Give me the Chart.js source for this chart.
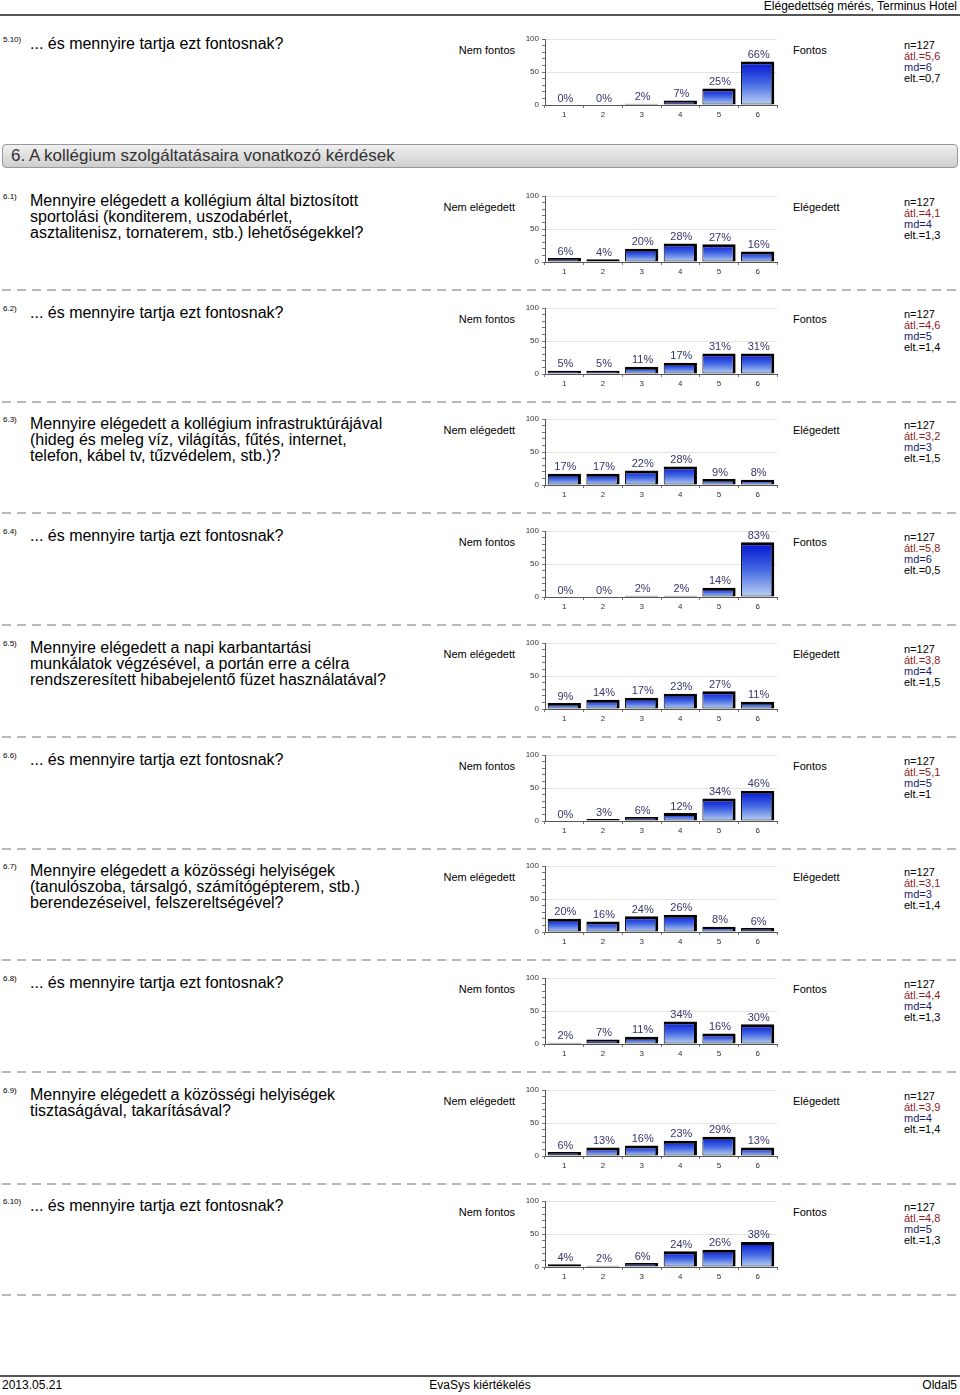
<!DOCTYPE html>
<html lang="hu">
<head>
<meta charset="utf-8">
<title>Elégedettség mérés, Terminus Hotel</title>
<script src="https://cdn.jsdelivr.net/npm/chart.js@4.4.1/dist/chart.umd.min.js"></script>
<style>
  html, body { margin: 0; padding: 0; background: #fff; }
  body { width: 960px; height: 1395px; position: relative; overflow: hidden;
         font-family: "Liberation Sans", Arial, sans-serif; color: #000; }
  .abs { position: absolute; white-space: nowrap; }
  .hline { position: absolute; left: 0; width: 960px; height: 2px; background: #555; }
  .qid { font-size: 8px; line-height: 10px; }
  .qtext { font-size: 16px; line-height: 16px; }
  .side { font-size: 11px; line-height: 12px; }
  .stats { font-size: 11px; line-height: 11px; }
  .dash { position: absolute; left: 2px; width: 956px; height: 2px;
          background: repeating-linear-gradient(90deg, #b8b8b8 0 9px, transparent 9px 15px); }
  .section { position: absolute; left: 2px; top: 144px; width: 956px; height: 24px;
             box-sizing: border-box; border: 1px solid #999; border-radius: 4px;
             background: linear-gradient(#f0f0f0, #cecece);
             font-size: 17px; line-height: 22px; color: #333; padding-left: 8px; }
  canvas { position: absolute; }
</style>
</head>
<body>

<div class="abs" style="right:3px; top:0px; font-size:12px; line-height:12px;">Elégedettség mérés, Terminus Hotel</div>
<div class="hline" style="top:14px;"></div>

<div class="section">6. A kollégium szolgáltatásaira vonatkozó kérdések</div>

<div class="hline" style="top:1375px;"></div>
<div class="abs" style="left:2px; top:1379px; font-size:12px; line-height:12px;">2013.05.21</div>
<div class="abs" style="left:0; width:960px; text-align:center; top:1379px; font-size:12px; line-height:12px;">EvaSys kiértékelés</div>
<div class="abs" style="right:3px; top:1379px; font-size:12px; line-height:12px;">Oldal5</div>

<script>
const categories = ['1', '2', '3', '4', '5', '6'];

const questionIds = ['5.10)', '6.1)', '6.2)', '6.3)', '6.4)', '6.5)', '6.6)', '6.7)', '6.8)', '6.9)', '6.10)'];

const importanceText = '... és mennyire tartja ezt fontosnak?';
const questionTexts = [
    importanceText,
    'Mennyire elégedett a kollégium által biztosított<br>sportolási (konditerem, uszodabérlet,<br>asztalitenisz, tornaterem, stb.) lehetőségekkel?',
    importanceText,
    'Mennyire elégedett a kollégium infrastruktúrájával<br>(hideg és meleg víz, világítás, fűtés, internet,<br>telefon, kábel tv, tűzvédelem, stb.)?',
    importanceText,
    'Mennyire elégedett a napi karbantartási<br>munkálatok végzésével, a portán erre a célra<br>rendszeresített hibabejelentő füzet használatával?',
    importanceText,
    'Mennyire elégedett a közösségi helyiségek<br>(tanulószoba, társalgó, számítógépterem, stb.)<br>berendezéseivel, felszereltségével?',
    importanceText,
    'Mennyire elégedett a közösségi helyiségek<br>tisztaságával, takarításával?',
    importanceText
];

const leftLabels = ['Nem fontos', 'Nem elégedett', 'Nem fontos', 'Nem elégedett', 'Nem fontos',
    'Nem elégedett', 'Nem fontos', 'Nem elégedett', 'Nem fontos', 'Nem elégedett', 'Nem fontos'];
const rightLabels = ['Fontos', 'Elégedett', 'Fontos', 'Elégedett', 'Fontos',
    'Elégedett', 'Fontos', 'Elégedett', 'Fontos', 'Elégedett', 'Fontos'];

// percentages per answer 1..6
const pct_5_10 = [0, 0, 2, 7, 25, 66];
const pct_6_1 = [6, 4, 20, 28, 27, 16];
const pct_6_2 = [5, 5, 11, 17, 31, 31];
const pct_6_3 = [17, 17, 22, 28, 9, 8];
const pct_6_4 = [0, 0, 2, 2, 14, 83];
const pct_6_5 = [9, 14, 17, 23, 27, 11];
const pct_6_6 = [0, 3, 6, 12, 34, 46];
const pct_6_7 = [20, 16, 24, 26, 8, 6];
const pct_6_8 = [2, 7, 11, 34, 16, 30];
const pct_6_9 = [6, 13, 16, 23, 29, 13];
const pct_6_10 = [4, 2, 6, 24, 26, 38];
const percentages = [pct_5_10, pct_6_1, pct_6_2, pct_6_3, pct_6_4, pct_6_5,
    pct_6_6, pct_6_7, pct_6_8, pct_6_9, pct_6_10];

const nValues = [127, 127, 127, 127, 127, 127, 127, 127, 127, 127, 127];
const means = ['5,6', '4,1', '4,6', '3,2', '5,8', '3,8', '5,1', '3,1', '4,4', '3,9', '4,8'];
const medians = ['6', '4', '5', '3', '6', '4', '5', '3', '4', '4', '5'];
const stdDevs = ['0,7', '1,3', '1,4', '1,5', '0,5', '1,5', '1', '1,4', '1,3', '1,4', '1,3'];

// ---- layout ----
const FONT = '"Liberation Sans", Arial, sans-serif';

function blockTop(i) {
    // y of the "100" gridline of each block
    if (i === 0) return 39;
    return Math.round(196 + (i - 1) * 111.7);
}

function addDiv(cls, style, html) {
    const d = document.createElement('div');
    d.className = cls;
    d.setAttribute('style', style);
    d.innerHTML = html;
    document.body.appendChild(d);
    return d;
}

// "NN%" above every bar
const pctLabels = {
    id: 'pctLabels',
    afterDraw(chart) {
        const ctx = chart.ctx;
        const meta = chart.getDatasetMeta(0);
        const values = chart.data.datasets[0].data;
        ctx.save();
        ctx.font = '11px ' + FONT;
        ctx.fillStyle = '#36366c';
        ctx.textAlign = 'center';
        ctx.textBaseline = 'bottom';
        meta.data.forEach((bar, i) => {
            ctx.fillText(values[i] + '%', bar.x + 1, bar.y - 1);
        });
        ctx.restore();
    }
};

function barFill(c) {
    if (c.type !== 'data') return '#2040e0';
    const chart = c.chart;
    const area = chart.chartArea;
    const y = chart.scales.y;
    if (!area || !y) return '#2040e0';
    const top = y.getPixelForValue(c.parsed.y);
    const base = y.getPixelForValue(0);
    if (base - top < 5) return '#18228a';
    const g = chart.ctx.createLinearGradient(0, top, 0, base);
    g.addColorStop(0, '#0012d0');
    g.addColorStop(0.5, '#4468e4');
    g.addColorStop(1, '#bad2f2');
    return g;
}

function createBlock(i) {
    const T = blockTop(i);

    addDiv('abs qid', `left:3px; top:${T - 4}px;`, questionIds[i]);
    addDiv('abs qtext', `left:30px; top:${T - 3}px;`, questionTexts[i]);
    addDiv('abs side', `left:380px; width:135px; text-align:right; top:${T + 5}px;`, leftLabels[i]);
    addDiv('abs side', `left:793px; top:${T + 5}px;`, rightLabels[i]);
    addDiv('abs stats', `left:904px; top:${T + 1}px;`,
        `n=${nValues[i]}<br><span style="color:#8a1c1c">átl.=${means[i]}</span><br>` +
        `<span style="color:#1c1c6e">md=${medians[i]}</span><br>elt.=${stdDevs[i]}`);
    if (i > 0) addDiv('dash', `top:${T + 93}px;`, '');

    const canvas = document.createElement('canvas');
    canvas.width = 275;
    canvas.height = 90;
    canvas.style.left = '515px';
    canvas.style.top = (T - 8) + 'px';
    document.body.appendChild(canvas);

    new Chart(canvas, {
        type: 'bar',
        data: {
            labels: categories,
            datasets: [{
                data: percentages[i],
                backgroundColor: barFill,
                borderColor: '#000',
                // heavy top/right edge gives the old pseudo-3D look
                borderWidth: { top: 3, right: 3, bottom: 1, left: 1 },
                borderSkipped: false,
                barPercentage: 0.86,
                categoryPercentage: 1
            }]
        },
        options: {
            responsive: false,
            animation: false,
            events: [],
            layout: { padding: { top: 8, right: 13, bottom: 0, left: 0 } },
            plugins: {
                legend: { display: false },
                tooltip: { enabled: false }
            },
            scales: {
                x: {
                    grid: { drawOnChartArea: false, offset: true, tickLength: 3, color: '#777' },
                    border: { color: '#555' },
                    ticks: { font: { size: 8, family: FONT }, color: '#333', padding: 2 },
                    afterFit: s => { s.height = 16; }
                },
                y: {
                    min: 0,
                    max: 100,
                    ticks: {
                        stepSize: 10,
                        autoSkip: false,
                        font: { size: 8, family: FONT },
                        color: '#333',
                        padding: 3,
                        callback: v => (v % 50 === 0 ? v : '')
                    },
                    grid: {
                        color: c => (c.tick && (c.tick.value === 50 || c.tick.value === 100)) ? '#e3e3e3' : 'rgba(0,0,0,0)',
                        tickColor: '#777',
                        tickLength: 3
                    },
                    border: { color: '#555' },
                    afterFit: s => { s.width = 30; }
                }
            }
        },
        plugins: [pctLabels]
    });
}

for (let i = 0; i < questionIds.length; i++) {
    createBlock(i);
}
</script>
</body>
</html>
